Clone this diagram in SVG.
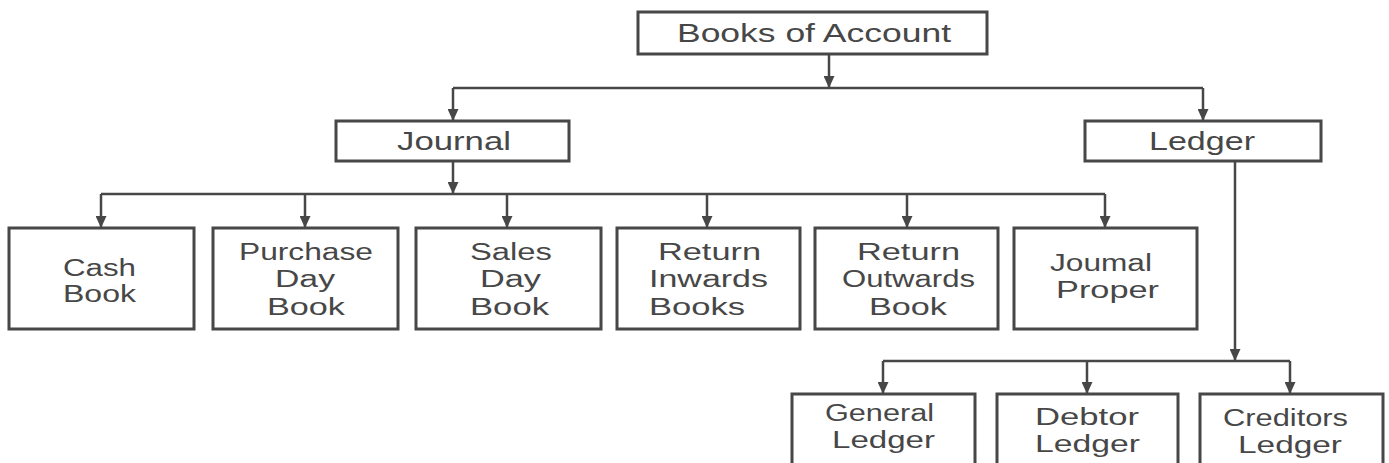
<svg xmlns="http://www.w3.org/2000/svg" width="1389" height="463" viewBox="0 0 1389 463">
<defs>
<style>
.box{fill:#fff;stroke:#474747;stroke-width:3}
.c{fill:none;stroke:#474747;stroke-width:2.5}
.a{marker-end:url(#arr)}
text{font-family:"Liberation Sans",Arial,sans-serif;font-size:26px;fill:#474747}
.t{font-size:25px}
.m{font-size:23px}
</style>
<marker id="arr" viewBox="0 0 12 11" refX="12" refY="5.5" markerWidth="12" markerHeight="11" markerUnits="userSpaceOnUse" orient="auto">
<path d="M0,0 L12,5.5 L0,11 z" fill="#474747"/>
</marker>
</defs>
<rect width="1389" height="463" fill="#fff"/>
<g id="connectors">
<line class="c a" x1="829" y1="54" x2="829" y2="88"/>
<line class="c a" x1="453" y1="88" x2="453" y2="121"/>
<line class="c" x1="453" y1="88" x2="1203" y2="88"/>
<line class="c a" x1="1203" y1="88" x2="1203" y2="121"/>
<line class="c a" x1="453" y1="162" x2="453" y2="194"/>
<line class="c" x1="101" y1="194" x2="1105" y2="194"/>
<line class="c a" x1="101" y1="194" x2="101" y2="228"/>
<line class="c a" x1="305" y1="194" x2="305" y2="228"/>
<line class="c a" x1="507" y1="194" x2="507" y2="228"/>
<line class="c a" x1="707" y1="194" x2="707" y2="228"/>
<line class="c a" x1="907" y1="194" x2="907" y2="228"/>
<line class="c a" x1="1105" y1="194" x2="1105" y2="228"/>
<line class="c a" x1="1235" y1="161" x2="1235" y2="361"/>
<line class="c" x1="883" y1="361" x2="1290" y2="361"/>
<line class="c a" x1="883" y1="361" x2="883" y2="394"/>
<line class="c a" x1="1087" y1="361" x2="1087" y2="394"/>
<line class="c a" x1="1290" y1="361" x2="1290" y2="394"/>
</g>
<g id="books">
<rect class="box" x="638" y="12" width="349" height="42"/>
<text x="677" y="42" textLength="274" lengthAdjust="spacingAndGlyphs">Books of Account</text>
</g>
<g id="journal">
<rect class="box" x="336" y="121" width="233" height="40"/>
<text class="t" x="397" y="150" textLength="114" lengthAdjust="spacingAndGlyphs">Journal</text>
</g>
<g id="ledger">
<rect class="box" x="1085" y="121" width="236" height="40"/>
<text class="t" x="1149" y="150" textLength="106" lengthAdjust="spacingAndGlyphs">Ledger</text>
</g>
<g id="cash-book">
<rect class="box" x="9" y="228" width="185" height="101"/>
<text class="m" x="63" y="276" textLength="73" lengthAdjust="spacingAndGlyphs">Cash</text>
<text class="m" x="63" y="302" textLength="73" lengthAdjust="spacingAndGlyphs">Book</text>
</g>
<g id="purchase-day-book">
<rect class="box" x="213" y="228" width="185" height="101"/>
<text class="m" x="239" y="260" textLength="134" lengthAdjust="spacingAndGlyphs">Purchase</text>
<text class="m" x="275" y="287" textLength="60" lengthAdjust="spacingAndGlyphs">Day</text>
<text class="m" x="267" y="315" textLength="78" lengthAdjust="spacingAndGlyphs">Book</text>
</g>
<g id="sales-day-book">
<rect class="box" x="416" y="228" width="185" height="101"/>
<text class="m" x="470" y="260" textLength="82" lengthAdjust="spacingAndGlyphs">Sales</text>
<text class="m" x="480" y="287" textLength="61" lengthAdjust="spacingAndGlyphs">Day</text>
<text class="m" x="470" y="315" textLength="79" lengthAdjust="spacingAndGlyphs">Book</text>
</g>
<g id="return-inwards-books">
<rect class="box" x="617" y="228" width="183" height="101"/>
<text class="m" x="658" y="260" textLength="103" lengthAdjust="spacingAndGlyphs">Return</text>
<text class="m" x="649" y="287" textLength="119" lengthAdjust="spacingAndGlyphs">Inwards</text>
<text class="m" x="649" y="315" textLength="96" lengthAdjust="spacingAndGlyphs">Books</text>
</g>
<g id="return-outwards-book">
<rect class="box" x="815" y="228" width="183" height="101"/>
<text class="m" x="857" y="260" textLength="103" lengthAdjust="spacingAndGlyphs">Return</text>
<text class="m" x="842" y="287" textLength="133" lengthAdjust="spacingAndGlyphs">Outwards</text>
<text class="m" x="869" y="315" textLength="78" lengthAdjust="spacingAndGlyphs">Book</text>
</g>
<g id="journal-proper">
<rect class="box" x="1014" y="228" width="183" height="101"/>
<text class="m" x="1050" y="271" textLength="102" lengthAdjust="spacingAndGlyphs">Joumal</text>
<text class="m" x="1056" y="298" textLength="103" lengthAdjust="spacingAndGlyphs">Proper</text>
</g>
<g id="general-ledger">
<rect class="box" x="792" y="394" width="183" height="80"/>
<text class="m" x="825" y="421" textLength="109" lengthAdjust="spacingAndGlyphs">General</text>
<text class="m" x="832" y="448" textLength="103" lengthAdjust="spacingAndGlyphs">Ledger</text>
</g>
<g id="debtor-ledger">
<rect class="box" x="997" y="394" width="181" height="80"/>
<text class="m" x="1035" y="425" textLength="104" lengthAdjust="spacingAndGlyphs">Debtor</text>
<text class="m" x="1035" y="452" textLength="105" lengthAdjust="spacingAndGlyphs">Ledger</text>
</g>
<g id="creditors-ledger">
<rect class="box" x="1200" y="394" width="183" height="80"/>
<text class="m" x="1223" y="426" textLength="125" lengthAdjust="spacingAndGlyphs">Creditors</text>
<text class="m" x="1238" y="453" textLength="104" lengthAdjust="spacingAndGlyphs">Ledger</text>
</g>
</svg>
